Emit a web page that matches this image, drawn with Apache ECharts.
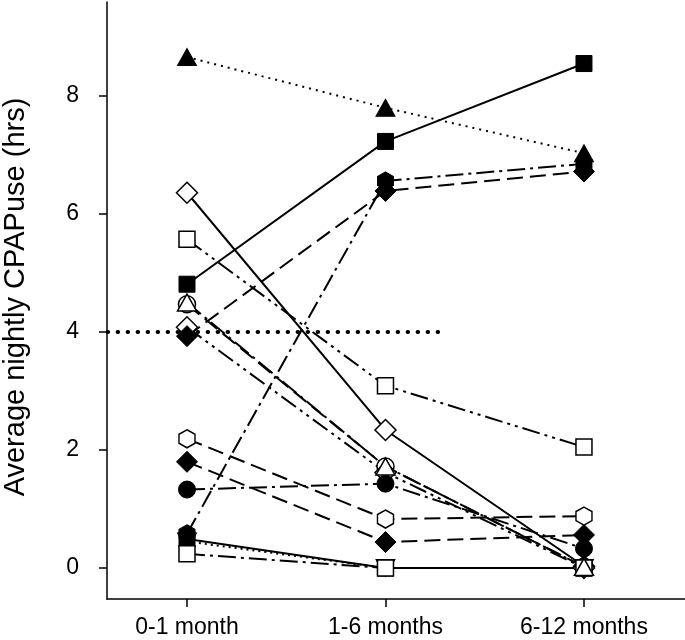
<!DOCTYPE html>
<html>
<head>
<meta charset="utf-8">
<script src="https://cdn.jsdelivr.net/npm/echarts@6/dist/echarts.min.js"></script>
<style>
  html, body { margin: 0; padding: 0; background: #fff; }
  #chart { width: 685px; height: 640px; }
</style>
</head>
<body>
<div id="chart"></div>
<script>
// ---- data ----
const categories = ['0-1 month', '1-6 months', '6-12 months'];
const yTicks = [0, 2, 4, 6, 8];
const yTitle = 'Average nightly CPAPuse (hrs)';
const refValue = 4;
const refExtent = [-0.4, 1.27];

const triFilledDotted   = [8.66, 7.80, 7.03];
const diamOpenSolid     = [6.36, 2.34, 0.03];
const sqOpenDashDot2    = [5.57, 3.09, 2.05];
const sqFilledSolid     = [4.81, 7.23, 8.55];
const circOpenDash      = [4.47, 1.72, 0.02];
const diamOpenDashDot2  = [4.08, 1.62, 0.0];
const diamFilledDash    = [3.93, 6.39, 6.72];
const hexOpenDash       = [2.19, 0.83, 0.88];
const diamFilledDash2   = [1.80, 0.44, 0.56];
const circFilledDashDot = [1.33, 1.43, 0.33];
const hexFilledDashDot  = [0.58, 6.56, 6.85];
const sqFilledSolid2    = [0.49, 0.0, 0.0];
const downTriDotted     = [0.45, 0.0, 0.0];
const sqOpenDashDot     = [0.24, 0.0, 0.0];
const triOpenDashDot    = [4.50, 1.72, 0.02];

// ---- styles ----
const HEX = 'path://M0,-10L8.66,-5L8.66,5L0,10L-8.66,5L-8.66,-5Z';
const DASH = {
  solid: 'solid',
  dotFine: [2, 5],
  longDash: [16, 7],
  dashDot: [18, 5, 3, 5],
  dashDot2: [18, 5, 3, 5, 3, 5],
  dot: [2, 4]
};
const SYM = {
  tri: { symbol: 'triangle', size: [19, 17] },
  down: { symbol: 'triangle', size: [19, 17], rotate: 180 },
  diam: { symbol: 'diamond', size: [21, 21] },
  sq: { symbol: 'rect', size: [16, 16] },
  circ: { symbol: 'circle', size: [17, 17] },
  hex: { symbol: HEX, size: [16, 18] }
};

function mk(values, sym, filled, dash) {
  const s = SYM[sym];
  return {
    type: 'line',
    data: values.map((v, i) => [i, v]),
    symbol: s.symbol,
    symbolSize: s.size,
    symbolRotate: s.rotate || 0,
    showSymbol: true,
    lineStyle: { color: '#000', width: 2, type: DASH[dash] },
    itemStyle: filled
      ? { color: '#000', borderColor: '#000', borderWidth: 1 }
      : { color: '#fff', borderColor: '#000', borderWidth: 1.5 },
    emphasis: { disabled: true },
    silent: true
  };
}

const seriesList = [
  {
    type: 'line',
    data: refExtent.map(x => [x, refValue]),
    symbol: 'none',
    lineStyle: { color: '#000', width: 4, type: [0.5, 9.5], cap: 'round' },
    silent: true
  },
  mk(triFilledDotted, 'tri', true, 'dotFine'),
  mk(diamOpenSolid, 'diam', false, 'solid'),
  mk(sqOpenDashDot2, 'sq', false, 'dashDot2'),
  mk(sqFilledSolid, 'sq', true, 'solid'),
  mk(circOpenDash, 'circ', false, 'longDash'),
  mk(diamOpenDashDot2, 'diam', false, 'dashDot2'),
  mk(diamFilledDash, 'diam', true, 'longDash'),
  mk(hexOpenDash, 'hex', false, 'longDash'),
  mk(diamFilledDash2, 'diam', true, 'longDash'),
  mk(circFilledDashDot, 'circ', true, 'dashDot'),
  mk(hexFilledDashDot, 'hex', true, 'dashDot'),
  mk(sqFilledSolid2, 'sq', true, 'solid'),
  mk(downTriDotted, 'down', true, 'dot'),
  mk(sqOpenDashDot, 'sq', false, 'dashDot'),
  mk(triOpenDashDot, 'tri', false, 'dashDot')
];

const FONT = '"Liberation Sans", Arial, sans-serif';
const chart = echarts.init(document.getElementById('chart'), null, { renderer: 'canvas' });
chart.setOption({
  animation: false,
  backgroundColor: '#fff',
  grid: { left: 107, right: 0, top: 2, bottom: 41, containLabel: false },
  xAxis: {
    type: 'value',
    min: -0.403,
    max: 2.509,
    axisLine: { show: true, onZero: false, lineStyle: { color: '#000', width: 1.5 } },
    axisTick: { show: true, customValues: [0, 1, 2], length: 8, lineStyle: { color: '#000', width: 1.5 } },
    axisLabel: {
      customValues: [0, 1, 2],
      formatter: v => categories[Math.round(v)],
      color: '#000', fontSize: 23, fontFamily: FONT, margin: 17
    },
    splitLine: { show: false }
  },
  yAxis: {
    type: 'value',
    min: -0.525,
    max: 9.593,
    axisLine: { show: true, onZero: false, lineStyle: { color: '#000', width: 1.5 } },
    axisTick: { show: true, customValues: yTicks, length: 8, lineStyle: { color: '#000', width: 1.5 } },
    axisLabel: {
      customValues: yTicks,
      align: 'right',
      padding: [0, 20, 0, 0],
      color: '#000', fontSize: 23, fontFamily: FONT, margin: 8
    },
    splitLine: { show: false }
  },
  graphic: [{
    type: 'text',
    x: 16,
    y: 297,
    rotation: Math.PI / 2,
    style: {
      text: yTitle,
      fill: '#000',
      fontSize: 29,
      fontFamily: FONT,
      textAlign: 'center',
      textVerticalAlign: 'middle'
    }
  }],
  series: seriesList
});
</script>
</body>
</html>
